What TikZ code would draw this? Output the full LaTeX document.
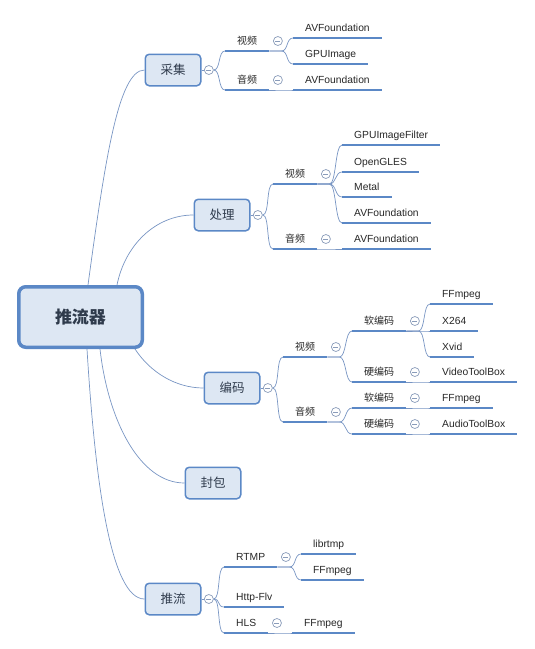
\documentclass[tikz,border=0pt]{standalone}
\usepackage{fontspec}
\setmainfont{Liberation Sans}
\newfontfamily\cjk{Noto Sans CJK SC}
\usepackage{tikz}
\usetikzlibrary{arrows.meta, positioning}
\usepackage{xcolor}
\definecolor{mapblue}{HTML}{5B88C6}
\definecolor{mapline}{HTML}{7895C3}
\definecolor{mapfill}{HTML}{DDE7F3}
\definecolor{mapfold}{HTML}{8A9CBA}
\definecolor{maptext}{HTML}{2F3B4C}

\begin{document}
\begin{tikzpicture}[x=1pt, y=-1pt,
    link/.style={mapline, line width=0.7pt},
    uline/.style={mapblue, line width=2.6pt},
    topic/.style={draw=mapblue, fill=mapfill, line width=1.5pt, rounded corners=4pt,
      minimum width=55.5pt, minimum height=31.5pt, text=maptext,
      font=\cjk\fontsize{12.5}{14}\selectfont},
    rootbox/.style={topic, line width=3.5pt, rounded corners=7pt,
      minimum width=123.5pt, minimum height=60.5pt,
      font=\cjk\bfseries\fontsize{17}{20}\selectfont},
    sub/.style={anchor=south west, inner xsep=12pt, inner ysep=3pt,
      text height=7.5pt, text depth=3pt, text=black!85,
      font=\fontsize{10.3}{12}\selectfont},
    zh/.style={sub, font=\cjk\fontsize{10}{12}\selectfont},
    fold/.style={circle, draw=mapfold, fill=white, line width=0.7pt,
      minimum size=9pt, inner sep=0pt,
      path picture={\draw[mapfold, line width=0.7pt]
        ([xshift=-2.5pt]path picture bounding box.center) --
        ([xshift=2.5pt]path picture bounding box.center);}}]
  \useasboundingbox (0,0) rectangle (535,649);

  % main topics
  \node[rootbox] (root) at (80.5,317) {推流器};
  \node[topic] (caiji) at (173,70) {采集};
  \node[topic] (chuli) at (222,215) {处理};
  \node[topic] (bianma) at (232,388) {编码};
  \node[topic] (fengbao) at (213,483) {封包};
  \node[topic] (tuiliu) at (173,599) {推流};

  \draw[link] ([xshift=71pt]root.north west) .. controls +(17,-125) and +(-26,0) .. (caiji.west);
  \draw[link] ([xshift=100pt]root.north west) .. controls +(8,-40) and +(-38,0) .. (chuli.west);
  \draw[link] ([xshift=-9pt]root.south east) .. controls +(15,23) and +(-28,0) .. (bianma.west);
  \draw[link] ([xshift=83pt]root.south west) .. controls +(8,71) and +(-45,0) .. (fengbao.west);
  \draw[link] ([xshift=70pt]root.south west) .. controls +(8,131) and +(-34,0) .. (tuiliu.west);

  \foreach \t/\f in {caiji/f-cj, chuli/f-cl, bianma/f-bm, tuiliu/f-tl} {
    \node[fold, right=2.5pt of \t] (\f) {};
    \draw[link] (\t.east) -- (\f.west);
  }

  % 采集
  \node[zh] (cj-v) at (225,51) {视频};
  \node[zh] (cj-a) at (225,90) {音频};
  \node[sub] (cj-v1) at (293,38) {AVFoundation};
  \node[sub] (cj-v2) at (293,64) {GPUImage};
  \node[sub] (cj-a1) at (293,90) {AVFoundation};

  % 处理
  \node[zh] (cl-v) at (273,184) {视频};
  \node[zh] (cl-a) at (273,249) {音频};
  \node[sub] (cl-v1) at (342,145) {GPUImageFilter};
  \node[sub] (cl-v2) at (342,172) {OpenGLES};
  \node[sub] (cl-v3) at (342,197) {Metal};
  \node[sub] (cl-v4) at (342,223) {AVFoundation};
  \node[sub] (cl-a1) at (342,249) {AVFoundation};

  % 编码
  \node[zh] (bm-v) at (283,357) {视频};
  \node[zh] (bm-a) at (283,422) {音频};
  \node[zh] (bm-vs) at (352,331) {软编码};
  \node[zh] (bm-vh) at (352,382) {硬编码};
  \node[zh] (bm-as) at (352,408) {软编码};
  \node[zh] (bm-ah) at (352,434) {硬编码};
  \node[sub] (bm-vs1) at (430,304) {FFmpeg};
  \node[sub] (bm-vs2) at (430,331) {X264};
  \node[sub] (bm-vs3) at (430,357) {Xvid};
  \node[sub] (bm-vh1) at (430,382) {VideoToolBox};
  \node[sub] (bm-as1) at (430,408) {FFmpeg};
  \node[sub] (bm-ah1) at (430,434) {AudioToolBox};

  % 推流
  \node[sub] (tl-r) at (224,567) {RTMP};
  \node[sub] (tl-h) at (224,607) {Http-Flv};
  \node[sub] (tl-s) at (224,633) {HLS};
  \node[sub] (tl-r1) at (301,554) {librtmp};
  \node[sub] (tl-r2) at (301,580) {FFmpeg};
  \node[sub] (tl-s1) at (292,633) {FFmpeg};

  \foreach \n in {cj-v, cj-a, cj-v1, cj-v2, cj-a1, cl-v, cl-a, cl-v1, cl-v2, cl-v3, cl-v4,
      cl-a1, bm-v, bm-a, bm-vs, bm-vh, bm-as, bm-ah, bm-vs1, bm-vs2, bm-vs3, bm-vh1,
      bm-as1, bm-ah1, tl-r, tl-h, tl-s, tl-r1, tl-r2, tl-s1}
    \draw[uline] (\n.south west) -- (\n.south east);

  \foreach \a/\b in {f-cj/cj-v, f-cj/cj-a, f-cl/cl-v, f-cl/cl-a, f-bm/bm-v, f-bm/bm-a,
      f-tl/tl-r, f-tl/tl-h, f-tl/tl-s}
    \draw[link] (\a.east) .. controls +(7,0) and +(-7,0) .. (\b.south west);

  \foreach \a/\b in {cj-v/cj-v1, cj-v/cj-v2, cj-a/cj-a1, cl-v/cl-v1, cl-v/cl-v2, cl-v/cl-v3,
      cl-v/cl-v4, cl-a/cl-a1, bm-v/bm-vs, bm-v/bm-vh, bm-a/bm-as, bm-a/bm-ah,
      bm-vs/bm-vs1, bm-vs/bm-vs2, bm-vs/bm-vs3, bm-vh/bm-vh1, bm-as/bm-as1, bm-ah/bm-ah1,
      tl-r/tl-r1, tl-r/tl-r2, tl-s/tl-s1}
    \draw[link] (\a.south east) -- ++(12,0) .. controls +(7,0) and +(-7,0) .. (\b.south west);

  \foreach \n in {cj-v, cj-a, cl-v, cl-a, bm-v, bm-a, bm-vs, bm-vh, bm-as, bm-ah, tl-r, tl-s}
    \node[fold] (f-\n) at ([shift={(8.5,-10)}]\n.south east) {};
\end{tikzpicture}
\end{document}
